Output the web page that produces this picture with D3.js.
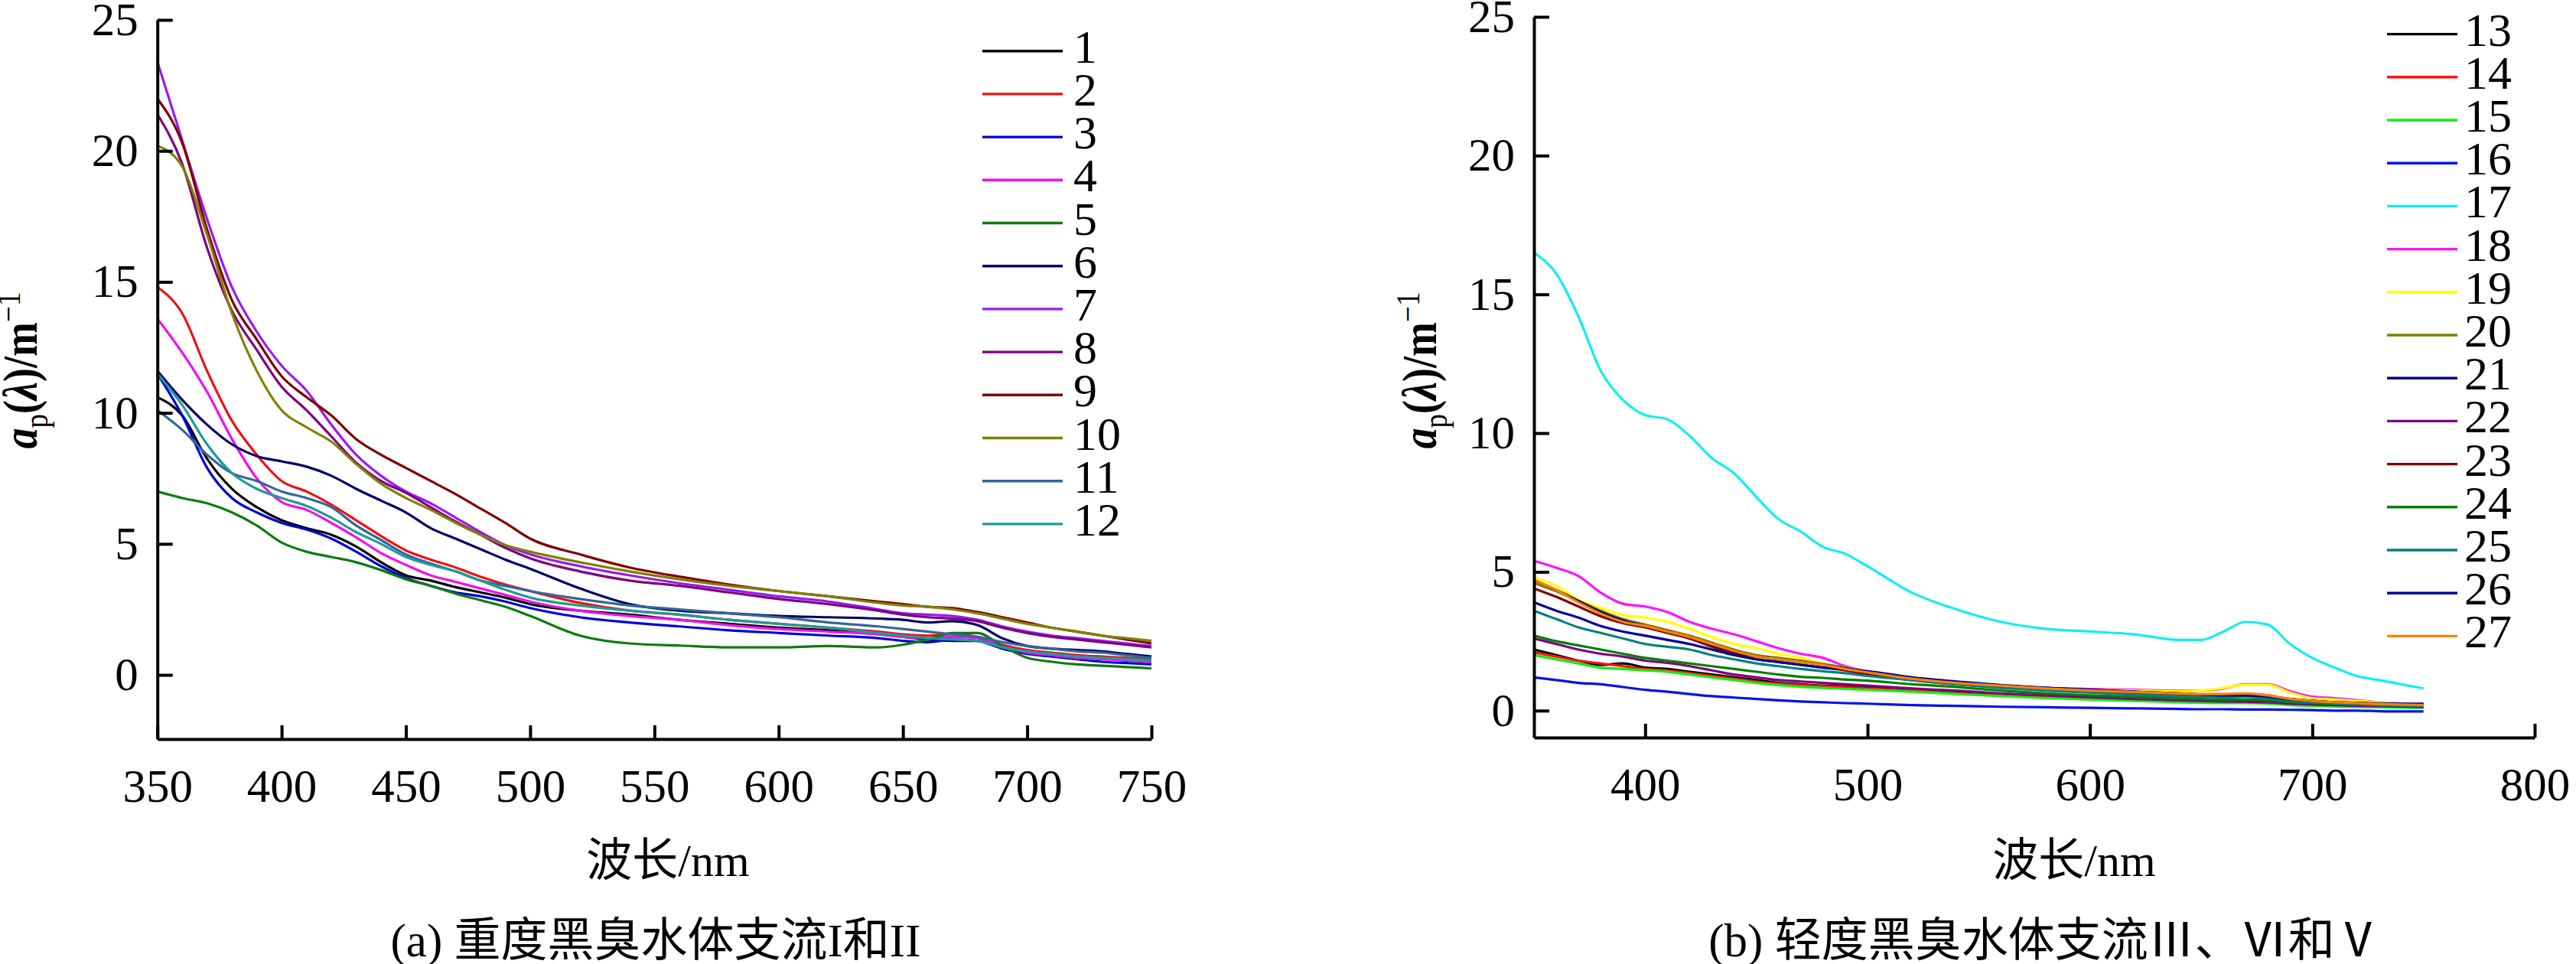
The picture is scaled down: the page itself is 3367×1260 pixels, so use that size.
<!DOCTYPE html>
<html>
<head>
<meta charset="utf-8">
<script src="https://cdn.jsdelivr.net/npm/d3@7"></script>
<style>
html,body{margin:0;padding:0;background:#fff;}
svg{display:block;}
text{font-family:"Liberation Serif","Noto Sans CJK SC",serif;fill:#000;}
</style>
</head>
<body>
<svg id="chart" width="3367" height="1260"></svg>
<script>
// ---------------- DATA ----------------
const wavelengths = [350,360,370,380,390,400,410,420,430,440,450,460,470,480,490,500,
  520,540,560,580,600,620,640,650,660,670,680,690,700,710,720,730,740,750];

const seriesNamesA = ["1","2","3","4","5","6","7","8","9","10","11","12"];
const seriesNamesB = ["13","14","15","16","17","18","19","20","21","22","23","24","25","26","27"];

const s1  = [10.6,9.9,8.25,7.1,6.4,5.9,5.6,5.35,4.9,4.3,3.8,3.6,3.35,3.15,2.95,2.7,2.45,2.3,2.1,1.95,1.8,1.7,1.55,1.45,1.35,1.3,1.3,1.1,0.9,0.8,0.7,0.65,0.55,0.5];
const s2  = [14.8,13.8,11.6,9.7,8.4,7.4,7.0,6.5,5.9,5.3,4.75,4.4,4.1,3.75,3.45,3.2,2.75,2.45,2.3,2.1,1.95,1.8,1.65,1.55,1.5,1.55,1.45,1.15,0.95,0.85,0.75,0.7,0.65,0.6];
const s3  = [11.5,9.9,7.9,6.75,6.2,5.8,5.55,5.2,4.7,4.15,3.7,3.4,3.15,3.0,2.8,2.55,2.2,2.0,1.85,1.7,1.6,1.5,1.4,1.3,1.25,1.35,1.3,1.0,0.8,0.7,0.6,0.5,0.45,0.4];
const s4  = [13.6,12.3,10.8,9.0,7.5,6.6,6.3,5.8,5.25,4.65,4.2,3.8,3.55,3.3,3.05,2.8,2.45,2.25,2.1,1.9,1.75,1.65,1.55,1.45,1.4,1.45,1.4,1.1,0.85,0.75,0.65,0.6,0.55,0.5];
const s5  = [7.0,6.75,6.55,6.2,5.7,5.05,4.7,4.5,4.3,4.0,3.65,3.4,3.1,2.85,2.6,2.25,1.5,1.2,1.12,1.05,1.05,1.1,1.05,1.15,1.35,1.6,1.6,1.1,0.65,0.5,0.4,0.35,0.3,0.25];
const s6  = [11.6,10.5,9.55,8.8,8.35,8.15,7.95,7.6,7.1,6.65,6.2,5.6,5.2,4.8,4.4,4.05,3.3,2.7,2.45,2.35,2.25,2.2,2.15,2.1,2.0,2.05,1.9,1.4,1.1,1.0,0.95,0.9,0.8,0.7];
const s7  = [23.4,20.4,17.4,14.8,13.1,11.8,10.85,9.55,8.4,7.6,7.0,6.55,6.0,5.45,4.95,4.6,4.15,3.8,3.5,3.25,3.0,2.8,2.5,2.35,2.3,2.25,2.1,1.85,1.65,1.5,1.4,1.3,1.2,1.1];
const s8  = [21.4,19.5,16.3,13.9,12.4,11.0,10.1,9.1,8.1,7.4,6.95,6.4,5.85,5.35,4.85,4.45,3.95,3.6,3.4,3.15,2.9,2.7,2.45,2.3,2.2,2.15,2.05,1.8,1.6,1.45,1.35,1.25,1.15,1.05];
const s9  = [22.0,20.3,17.0,14.3,12.8,11.4,10.6,9.9,9.0,8.4,7.9,7.4,6.9,6.35,5.8,5.2,4.6,4.1,3.75,3.45,3.2,3.0,2.8,2.7,2.6,2.55,2.4,2.2,2.0,1.8,1.65,1.5,1.35,1.2];
const s10 = [20.2,19.4,16.8,13.8,11.6,10.1,9.45,8.9,8.05,7.3,6.75,6.3,5.8,5.35,4.95,4.7,4.3,3.95,3.65,3.4,3.2,3.0,2.75,2.65,2.6,2.5,2.35,2.15,1.95,1.8,1.65,1.5,1.4,1.3];
const s11 = [10.1,9.35,8.4,7.7,7.4,7.0,6.75,6.4,5.7,5.15,4.6,4.25,3.95,3.6,3.4,3.2,2.9,2.65,2.5,2.35,2.2,2.0,1.85,1.75,1.65,1.55,1.45,1.25,1.1,1.0,0.9,0.85,0.75,0.65];
const s12 = [11.5,10.3,8.8,7.7,7.1,6.75,6.45,6.0,5.45,5.0,4.5,4.2,3.95,3.6,3.25,2.95,2.65,2.45,2.3,2.1,1.95,1.8,1.6,1.5,1.4,1.35,1.3,1.05,0.9,0.8,0.7,0.65,0.6,0.55];

const s13 = [2.2,2.0,1.8,1.65,1.7,1.55,1.5,1.4,1.3,1.2,1.1,1.0,0.95,0.9,0.88,0.85,0.75,0.65,0.55,0.5,0.45,0.4,0.35,0.33,0.32,0.32,0.3,0.25,0.22,0.2,0.18,0.17,0.15,0.15];
const s14 = [2.1,1.95,1.8,1.7,1.6,1.5,1.45,1.35,1.25,1.15,1.05,0.97,0.92,0.88,0.85,0.8,0.72,0.62,0.55,0.48,0.43,0.38,0.33,0.3,0.3,0.3,0.28,0.22,0.2,0.18,0.16,0.15,0.14,0.13];
const s15 = [2.0,1.85,1.7,1.55,1.5,1.45,1.4,1.3,1.2,1.1,1.0,0.92,0.86,0.82,0.78,0.75,0.68,0.6,0.52,0.45,0.4,0.35,0.3,0.28,0.27,0.27,0.25,0.2,0.17,0.15,0.13,0.12,0.11,0.1];
const s16 = [1.2,1.1,1.0,0.95,0.85,0.75,0.68,0.6,0.52,0.47,0.42,0.37,0.33,0.3,0.27,0.25,0.2,0.17,0.14,0.12,0.1,0.08,0.06,0.05,0.05,0.04,0.04,0.03,0.02,0.0,0.0,-0.02,-0.03,-0.03];
const s17 = [16.5,15.75,14.2,12.25,11.2,10.65,10.5,9.9,9.1,8.55,7.7,6.9,6.45,5.9,5.65,5.2,4.25,3.65,3.2,2.95,2.85,2.75,2.55,2.55,2.85,3.2,3.1,2.4,1.9,1.55,1.25,1.1,0.95,0.8];
const s18 = [5.4,5.15,4.85,4.25,3.85,3.75,3.55,3.2,2.95,2.75,2.5,2.25,2.05,1.9,1.6,1.4,1.1,0.95,0.88,0.82,0.78,0.75,0.72,0.72,0.8,0.95,0.95,0.7,0.5,0.45,0.38,0.3,0.25,0.2];
const s19 = [4.8,4.5,4.0,3.7,3.45,3.35,3.2,2.95,2.65,2.4,2.25,2.05,1.9,1.7,1.55,1.38,1.1,0.95,0.85,0.8,0.75,0.72,0.7,0.72,0.82,0.93,0.93,0.65,0.45,0.4,0.35,0.3,0.25,0.2];
const s20 = [4.6,4.3,3.95,3.6,3.3,3.1,2.9,2.7,2.45,2.2,2.0,1.9,1.8,1.68,1.55,1.4,1.15,0.98,0.88,0.8,0.72,0.66,0.6,0.58,0.58,0.6,0.55,0.42,0.35,0.3,0.27,0.24,0.2,0.18];
const s21 = [4.7,4.35,3.95,3.55,3.25,3.05,2.85,2.6,2.35,2.1,1.95,1.85,1.75,1.65,1.52,1.4,1.15,1.0,0.9,0.82,0.75,0.68,0.62,0.58,0.56,0.55,0.5,0.42,0.35,0.3,0.27,0.25,0.23,0.22];
const s22 = [2.6,2.4,2.2,2.05,1.95,1.8,1.72,1.6,1.45,1.3,1.2,1.1,1.05,1.0,0.95,0.9,0.8,0.72,0.62,0.55,0.48,0.42,0.37,0.35,0.33,0.32,0.3,0.25,0.22,0.2,0.18,0.16,0.15,0.13];
const s23 = [4.4,4.1,3.75,3.4,3.15,3.0,2.8,2.6,2.3,2.05,1.85,1.75,1.65,1.55,1.45,1.3,1.1,0.95,0.85,0.77,0.7,0.64,0.58,0.55,0.54,0.53,0.48,0.4,0.35,0.3,0.27,0.24,0.22,0.2];
const s24 = [2.7,2.5,2.35,2.2,2.05,1.9,1.8,1.7,1.6,1.5,1.4,1.3,1.22,1.18,1.12,1.08,0.95,0.85,0.72,0.62,0.55,0.5,0.45,0.42,0.4,0.4,0.38,0.3,0.27,0.24,0.22,0.2,0.18,0.17];
const s25 = [3.6,3.3,3.0,2.8,2.6,2.4,2.3,2.2,2.0,1.85,1.7,1.6,1.5,1.42,1.35,1.25,1.1,0.95,0.82,0.72,0.65,0.58,0.52,0.5,0.48,0.5,0.45,0.35,0.3,0.26,0.23,0.2,0.18,0.17];
const s26 = [3.9,3.6,3.35,3.05,2.85,2.7,2.55,2.4,2.2,2.0,1.85,1.75,1.65,1.55,1.5,1.42,1.2,1.05,0.92,0.82,0.75,0.68,0.62,0.58,0.55,0.55,0.5,0.4,0.35,0.3,0.28,0.26,0.25,0.25];
const s27 = [4.7,4.35,3.9,3.5,3.2,3.05,2.85,2.65,2.4,2.15,1.95,1.85,1.75,1.65,1.5,1.38,1.15,1.0,0.9,0.8,0.72,0.67,0.62,0.6,0.6,0.62,0.55,0.42,0.35,0.3,0.27,0.24,0.22,0.2];

const seriesA = [s1,s2,s3,s4,s5,s6,s7,s8,s9,s10,s11,s12];
const seriesB = [s13,s14,s15,s16,s17,s18,s19,s20,s21,s22,s23,s24,s25,s26,s27];

const colorsA = ["#000000","#ee1111","#0000dd","#ee11ee","#107a10","#000066","#9a1aee","#7f007f","#7f0000","#808000","#33669a","#209a9a"];
const colorsB = ["#000000","#ff1111","#11ee11","#0011ee","#11eeee","#ff11ff","#ffff00","#808000","#000080","#7f007f","#800000","#008000","#008080","#000099","#ff8000"];

const xTicksA = [350,400,450,500,550,600,650,700,750];
const xTicksB = [400,500,600,700,800];
const yTicks = [0,5,10,15,20,25];

const xTitle = "波长/nm";
const captionA = "(a) 重度黑臭水体支流I和II";
const captionB = "(b) 轻度黑臭水体支流Ⅲ、Ⅵ和Ⅴ";

// ---------------- DRAW ----------------
const svg = d3.select("#chart");

function panel(cfg) {
  const x = d3.scaleLinear().domain(cfg.xDomain).range(cfg.xRange);
  const y = d3.scaleLinear().domain(cfg.yDomain).range(cfg.yRange);
  const g = svg.append("g");

  // lines
  const line = d3.line()
    .x((d, i) => x(wavelengths[i]))
    .y(d => y(d))
    .curve(d3.curveMonotoneX);
  cfg.series.forEach((s, k) => {
    g.append("path")
      .attr("d", line(s))
      .attr("fill", "none")
      .attr("stroke", cfg.colors[k])
      .attr("stroke-width", 3.2)
      .attr("stroke-linejoin", "round");
  });

  // axes
  const xAxis = d3.axisBottom(x).tickValues(cfg.xTicks).tickSizeInner(-18).tickSizeOuter(0).tickPadding(39).tickFormat(d3.format("d"));
  const yAxis = d3.axisLeft(y).tickValues(yTicks).tickSizeInner(-20).tickSizeOuter(0).tickPadding(25).tickFormat(d3.format("d"));

  const gx = g.append("g").attr("transform", `translate(0,${cfg.yRange[0]})`).call(xAxis);
  const gy = g.append("g").attr("transform", `translate(${cfg.xRange[0]},0)`).call(yAxis);
  [gx, gy].forEach(a => {
    a.selectAll("path, line").attr("stroke", "#000").attr("stroke-width", 4);
    a.selectAll("text").attr("font-size", 61).attr("font-family", '"Liberation Serif", serif').attr("fill", "#000");
  });

  // legend
  cfg.names.forEach((n, k) => {
    const ly = cfg.legY0 + k * 56.2;
    g.append("line")
      .attr("x1", cfg.legX1).attr("x2", cfg.legX2)
      .attr("y1", ly).attr("y2", ly)
      .attr("stroke", cfg.colors[k]).attr("stroke-width", 3.4);
    g.append("text")
      .attr("x", cfg.legTx).attr("y", ly + 15)
      .attr("font-size", 62)
      .text(n);
  });

  // y label (condensed along the text direction, as in the reference)
  const yl = g.append("text")
    .attr("text-anchor", "middle")
    .attr("font-size", 64)
    .attr("font-weight", "bold");
  yl.append("tspan").attr("font-style", "italic").text("a");
  yl.append("tspan").attr("font-size", 44).attr("font-weight", "normal").attr("dy", 14).text("p");
  yl.append("tspan").attr("dy", -14).text("(");
  yl.append("tspan").attr("font-style", "italic").text("λ");
  yl.append("tspan").text(")/m");
  yl.append("tspan").attr("font-size", 44).attr("font-weight", "normal").attr("dy", -22).text("−1");
  const natural = yl.node().getComputedTextLength();
  const sx = 205 / natural;
  yl.attr("transform", `translate(${cfg.yLabX},484) rotate(-90) scale(${sx},1)`);

  // x title
  g.append("text")
    .attr("x", cfg.xTitleX).attr("y", 1145)
    .attr("text-anchor", "middle")
    .attr("font-size", 60)
    .text(xTitle);

  // caption
  g.append("text")
    .attr("x", cfg.capX).attr("y", 1250)
    .attr("text-anchor", "middle")
    .attr("font-size", 61)
    .text(cfg.caption);
}

panel({
  xDomain: [350, 750], xRange: [205.7, 1505],
  yDomain: [-2.45, 25], yRange: [966, 26],
  series: seriesA, colors: colorsA, names: seriesNamesA,
  xTicks: xTicksA,
  legY0: 66.7, legX1: 1284, legX2: 1389, legTx: 1403,
  yLabX: 48, xTitleX: 873, capX: 857, caption: captionA
});

panel({
  xDomain: [350, 800], xRange: [2005, 3313],
  yDomain: [-0.97, 25], yRange: [964, 22],
  series: seriesB, colors: colorsB, names: seriesNamesB,
  xTicks: xTicksB,
  legY0: 44.6, legX1: 3120, legX2: 3212, legTx: 3221,
  yLabX: 1877, xTitleX: 2711, capX: 2673, caption: captionB
});
</script>
</body>
</html>
